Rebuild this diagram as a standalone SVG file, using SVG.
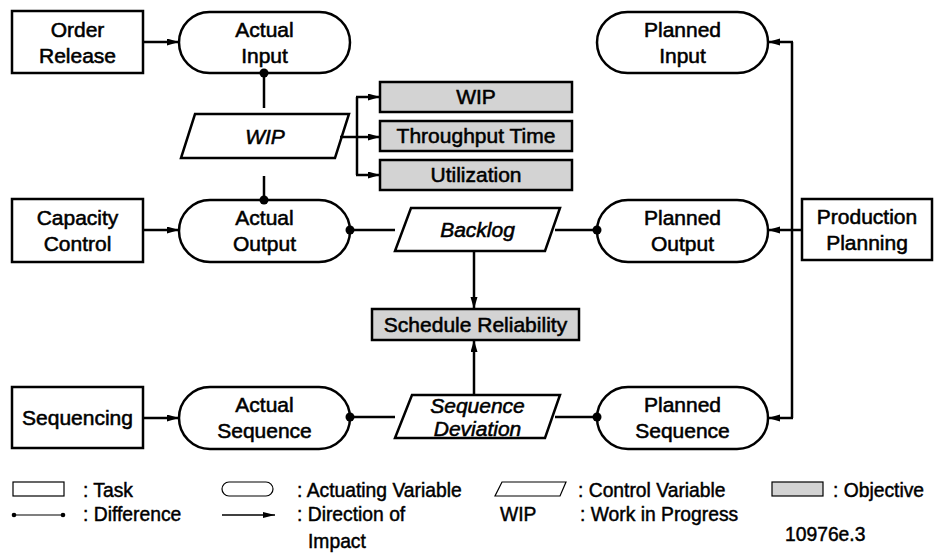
<svg xmlns="http://www.w3.org/2000/svg" width="935" height="553" viewBox="0 0 935 553">
<defs>
<marker id="arr" markerUnits="userSpaceOnUse" markerWidth="13" markerHeight="8" refX="12" refY="3.5" orient="auto">
<path d="M0,0 L12,3.5 L0,7 z" fill="#000"/>
</marker>
<marker id="arrs" markerUnits="userSpaceOnUse" markerWidth="13" markerHeight="8" refX="12" refY="3" orient="auto">
<path d="M0,0 L12,3 L0,6 z" fill="#000"/>
</marker>
</defs>
<style>
.box{fill:#fff;stroke:#000;stroke-width:2.5}
.obj{fill:#d3d3d3;stroke:#000;stroke-width:2.5}
.con{stroke:#000;stroke-width:2.5;fill:none}
.t{font-family:"Liberation Sans",Arial,sans-serif;font-size:21px;text-anchor:middle;fill:#000;stroke:#000;stroke-width:0.55}
.i{font-style:italic}
.lg{font-family:"Liberation Sans",Arial,sans-serif;font-size:19.3px;fill:#000;stroke:#000;stroke-width:0.45}
.ls{fill:#fff;stroke:#000;stroke-width:1.2}
.lo{fill:#d3d3d3;stroke:#000;stroke-width:1.2}
.dot{fill:#000}
</style>
<rect width="935" height="553" fill="#fff"/>

<g id="order-release">
<rect class="box" x="12" y="11" width="131" height="62"/>
<text class="t" x="77.5" y="37">Order</text>
<text class="t" x="77.5" y="63">Release</text>
</g>
<g id="actual-input">
<rect class="box" x="179" y="12" width="171" height="61" rx="30.5"/>
<text class="t" x="264.5" y="37">Actual</text>
<text class="t" x="264.5" y="63">Input</text>
</g>
<g id="planned-input">
<rect class="box" x="597" y="12" width="171" height="61" rx="30.5"/>
<text class="t" x="682.5" y="37">Planned</text>
<text class="t" x="682.5" y="63">Input</text>
</g>
<g id="wip">
<polygon class="box" points="195,114 349,114 335,158 181,158"/>
<text class="t i" x="265" y="144">WIP</text>
</g>
<g id="obj-wip">
<rect class="obj" x="380" y="82" width="192" height="30"/>
<text class="t" x="476" y="104">WIP</text>
</g>
<g id="obj-throughput-time">
<rect class="obj" x="380" y="121" width="192" height="30"/>
<text class="t" x="476" y="143">Throughput Time</text>
</g>
<g id="obj-utilization">
<rect class="obj" x="380" y="160" width="192" height="30"/>
<text class="t" x="476" y="182">Utilization</text>
</g>
<g id="capacity-control">
<rect class="box" x="12" y="199" width="131" height="63"/>
<text class="t" x="77.5" y="225">Capacity</text>
<text class="t" x="77.5" y="251">Control</text>
</g>
<g id="actual-output">
<rect class="box" x="179" y="200" width="171" height="62" rx="31"/>
<text class="t" x="264.5" y="225">Actual</text>
<text class="t" x="264.5" y="251">Output</text>
</g>
<g id="backlog">
<polygon class="box" points="411,208 560,208 545,251 395,251"/>
<text class="t i" x="477.5" y="237">Backlog</text>
</g>
<g id="planned-output">
<rect class="box" x="597" y="200" width="171" height="62" rx="31"/>
<text class="t" x="682.5" y="225">Planned</text>
<text class="t" x="682.5" y="251">Output</text>
</g>
<g id="production-planning">
<rect class="box" x="802" y="199" width="130" height="61"/>
<text class="t" x="867" y="224">Production</text>
<text class="t" x="867" y="250">Planning</text>
</g>
<g id="schedule-reliability">
<rect class="obj" x="372" y="309" width="207" height="31"/>
<text class="t" x="475.5" y="332">Schedule Reliability</text>
</g>
<g id="sequencing">
<rect class="box" x="12" y="387" width="131" height="61"/>
<text class="t" x="77.5" y="425">Sequencing</text>
</g>
<g id="actual-sequence">
<rect class="box" x="179" y="387" width="171" height="62" rx="31"/>
<text class="t" x="264.5" y="412">Actual</text>
<text class="t" x="264.5" y="438">Sequence</text>
</g>
<g id="sequence-deviation">
<polygon class="box" points="412,395 560,395 545,438 395,438"/>
<text class="t i" x="477.5" y="413">Sequence</text>
<text class="t i" x="477.5" y="436">Deviation</text>
</g>
<g id="planned-sequence">
<rect class="box" x="597" y="387" width="171" height="62" rx="31"/>
<text class="t" x="682.5" y="412">Planned</text>
<text class="t" x="682.5" y="438">Sequence</text>
</g>

<g id="connectors">
<line class="con" x1="143" y1="42" x2="179" y2="42" marker-end="url(#arr)"/>
<line class="con" x1="264" y1="73" x2="264" y2="108"/>
<circle class="dot" cx="264" cy="73" r="4.5"/>
<line class="con" x1="264" y1="176" x2="264" y2="200"/>
<circle class="dot" cx="264" cy="200" r="4.5"/>
<line class="con" x1="340" y1="137" x2="357" y2="137"/>
<line class="con" x1="357" y1="97" x2="357" y2="175"/>
<line class="con" x1="356" y1="97" x2="380" y2="97" marker-end="url(#arr)"/>
<line class="con" x1="357" y1="137" x2="380" y2="137" marker-end="url(#arr)"/>
<line class="con" x1="356" y1="175" x2="380" y2="175" marker-end="url(#arr)"/>
<line class="con" x1="143" y1="230" x2="179" y2="230" marker-end="url(#arr)"/>
<line class="con" x1="350" y1="230" x2="395" y2="230"/>
<circle class="dot" cx="350" cy="230" r="4.5"/>
<line class="con" x1="555" y1="230" x2="597" y2="230"/>
<circle class="dot" cx="597" cy="230" r="4.5"/>
<line class="con" x1="802" y1="230" x2="768" y2="230" marker-end="url(#arr)"/>
<line class="con" x1="792" y1="42" x2="792" y2="418"/>
<line class="con" x1="793" y1="42" x2="768" y2="42" marker-end="url(#arr)"/>
<line class="con" x1="793" y1="418" x2="768" y2="418" marker-end="url(#arr)"/>
<line class="con" x1="474" y1="251" x2="474" y2="309" marker-end="url(#arr)"/>
<line class="con" x1="474" y1="395" x2="474" y2="340" marker-end="url(#arr)"/>
<line class="con" x1="143" y1="418" x2="179" y2="418" marker-end="url(#arr)"/>
<line class="con" x1="350" y1="417" x2="395" y2="417"/>
<circle class="dot" cx="350" cy="417" r="4.5"/>
<line class="con" x1="555" y1="417" x2="597" y2="417"/>
<circle class="dot" cx="597" cy="417" r="4.5"/>
</g>

<g id="legend">
<rect class="ls" x="13" y="482" width="51" height="14"/>
<text class="lg" x="83" y="497">: Task</text>
<rect class="ls" x="222" y="482" width="51" height="14" rx="7"/>
<text class="lg" x="297" y="497">: Actuating Variable</text>
<polygon class="ls" points="502,482 566,482 560,496 495,496"/>
<text class="lg" x="578" y="497">: Control Variable</text>
<rect class="lo" x="772" y="482" width="51" height="14"/>
<text class="lg" x="833" y="497">: Objective</text>
<line x1="14" y1="515" x2="63" y2="515" stroke="#000" stroke-width="1.2"/>
<circle class="dot" cx="14" cy="515" r="2.3"/>
<circle class="dot" cx="63" cy="515" r="2.3"/>
<text class="lg" x="83" y="521">: Difference</text>
<line x1="222" y1="515" x2="275" y2="515" stroke="#000" stroke-width="1.5" marker-end="url(#arrs)"/>
<text class="lg" x="297" y="521">: Direction of</text>
<text class="lg" x="308" y="548">Impact</text>
<text class="lg" x="500" y="521">WIP</text>
<text class="lg" x="580" y="521">: Work in Progress</text>
<text class="lg" x="785" y="541">10976e.3</text>
</g>
</svg>
